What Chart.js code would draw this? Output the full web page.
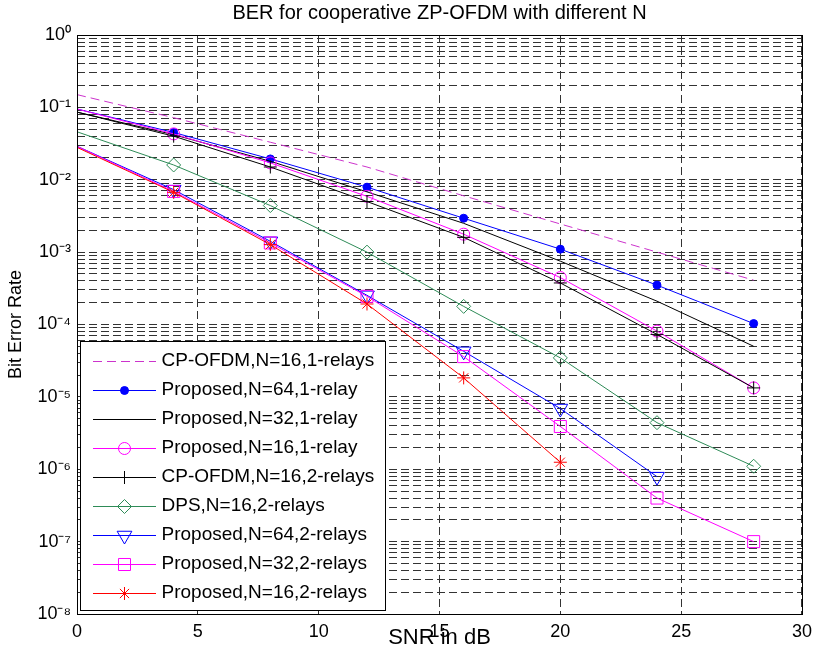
<!DOCTYPE html>
<html>
<head>
<meta charset="utf-8">
<script src="https://cdn.jsdelivr.net/npm/chart.js@4.4.1/dist/chart.umd.min.js"></script>
<style>
  html, body { margin: 0; padding: 0; background: #fff; }
</style>
</head>
<body>
<canvas id="berChart" width="819" height="654"></canvas>
<script>
// SNR points (dB)
const snrDb = [0, 4, 8, 12, 16, 20, 24, 28];

// BER curves
const berCpOfdm1Relay   = [0.15, 0.072, 0.033, 0.0150, 6.0e-3, 2.45e-3, 1.0e-3, 4.1e-4];
const berProp64_1Relay  = [0.095, 0.045, 0.0194, 0.0079, 2.94e-3, 1.1e-3, 3.5e-4, 1.03e-4];
const berProp32_1Relay  = [0.086, 0.042, 0.018, 0.0068, 2.5e-3, 7.5e-4, 2.1e-4, 5.0e-5];
const berProp16_1Relay  = [0.095, 0.043, 0.0171, 0.0059, 1.77e-3, 4.45e-4, 8.1e-5, 1.33e-5];
const berCpOfdm2Relays  = [0.086, 0.040, 0.0150, 0.0050, 1.6e-3, 3.75e-4, 7.3e-5, 1.33e-5];
const berDps2Relays     = [0.046, 0.016, 4.4e-3, 1.0e-3, 1.78e-4, 3.46e-5, 4.4e-6, 1.1e-6];
const berProp64_2Relays = [0.029, 7.3e-3, 1.41e-3, 2.53e-4, 4.26e-5, 6.9e-6, 7.9e-7];
const berProp32_2Relays = [0.029, 6.9e-3, 1.34e-3, 2.45e-4, 3.6e-5, 3.9e-6, 4.0e-7, 1.0e-7];
const berProp16_2Relays = [0.028, 6.7e-3, 1.27e-3, 1.92e-4, 1.83e-5, 1.25e-6];

const xTicks = [0, 5, 10, 15, 20, 25, 30];
const yExponents = [0, -1, -2, -3, -4, -5, -6, -7, -8];

const SUP = {'0': '⁰', '1': '¹', '2': '²', '3': '³', '4': '⁴', '5': '⁵', '6': '⁶', '7': '⁷', '8': '⁸', '9': '⁹', '-': '⁻'};
const powLabel = (e) => '10' + String(e).split('').map(c => SUP[c]).join('');

// all decade + minor values for the log grid
const yGridValues = [];
for (let e = -8; e <= 0; e++) {
  for (let m = 1; m <= 9; m++) {
    const v = parseFloat((m * Math.pow(10, e)).toPrecision(3));
    if (v <= 1) yGridValues.push(v);
  }
}

const FONT = "'Liberation Sans', Arial, Helvetica, sans-serif";
Chart.defaults.font.family = FONT;
Chart.defaults.color = '#000';

// marker: [pointStyle, radius, rotation, filled]
function series(label, ys, color, marker, extra) {
  const [style, radius, rotation, filled] = marker;
  return Object.assign({
    label: label,
    data: ys.map((y, i) => ({x: snrDb[i], y: y})),
    borderColor: color,
    borderWidth: 1,
    tension: 0,
    pointStyle: style || 'circle',
    pointRadius: (ctx) => (ctx.raw && ctx.raw.x === 0) ? 0 : radius,
    pointHoverRadius: radius,
    pointRotation: rotation,
    pointBorderWidth: 1,
    pointBorderColor: color,
    pointBackgroundColor: filled ? color : 'rgba(0,0,0,0)',
    legendMarker: {style: style, radius: radius, rotation: rotation, fill: filled ? color : 'rgba(0,0,0,0)'}
  }, extra || {});
}

const datasets = [
  series('CP-OFDM,N=16,1-relays', berCpOfdm1Relay, '#cc33cc', [false, 0, 0, false], {borderDash: [9, 5]}),
  series('Proposed,N=64,1-relay', berProp64_1Relay, '#0000ff', ['circle', 4, 0, true]),
  series('Proposed,N=32,1-relay', berProp32_1Relay, '#000000', [false, 0, 0, false]),
  series('Proposed,N=16,1-relay', berProp16_1Relay, '#ff00ff', ['circle', 6, 0, false]),
  series('CP-OFDM,N=16,2-relays', berCpOfdm2Relays, '#000000', ['cross', 6.5, 0, false]),
  series('DPS,N=16,2-relays', berDps2Relays, '#2e8b57', ['rectRot', 7, 0, false]),
  series('Proposed,N=64,2-relays', berProp64_2Relays, '#0000ff', ['triangle', 8.5, 180, false]),
  series('Proposed,N=32,2-relays', berProp32_2Relays, '#ff00ff', ['rect', 8.5, 0, false]),
  series('Proposed,N=16,2-relays', berProp16_2Relays, '#ff0000', ['star', 6.5, 0, false])
];
// later series drawn on top, like the original plot
datasets.forEach((ds, i) => { ds.order = datasets.length - i; });

// axes box + boxed legend drawn over the grid
const frameAndLegend = {
  id: 'frameAndLegend',
  afterLayout(chart) {
    // the chartArea legend is laid out from y=0; slide it down to the bottom-left corner
    const lg = chart.legend;
    const dy = chart.chartArea.bottom - 2 - lg.bottom;
    lg.top += dy;
    lg.bottom += dy;
    lg.legendHitBoxes.forEach(b => { b.top += dy; });
  },
  afterDraw(chart) {
    const {ctx, chartArea: a, legend} = chart;
    ctx.save();
    ctx.setLineDash([]);
    ctx.strokeStyle = '#000';
    ctx.lineWidth = 1;
    ctx.strokeRect(a.left + 0.5, a.top + 0.5, a.right - a.left, a.bottom - a.top);

    const boxes = legend.legendHitBoxes;
    const x0 = Math.round(a.left + 3);
    const y0 = Math.round(boxes[0].top - 10);
    const x1 = Math.round(Math.max(...boxes.map(b => b.left + b.width)) + 11);
    const y1 = Math.round(a.bottom - 4);
    ctx.fillStyle = '#fff';
    ctx.fillRect(x0, y0, x1 - x0, y1 - y0);
    ctx.strokeRect(x0 + 0.5, y0 + 0.5, x1 - x0, y1 - y0);
    ctx.restore();

    legend.draw();

    legend.legendItems.forEach((item, i) => {
      const b = boxes[i];
      const ds = chart.data.datasets[item.datasetIndex];
      const y = Math.round(b.top + b.height / 2) + 0.5;
      const xs = b.left + 6, xe = b.left + 69;
      ctx.save();
      ctx.strokeStyle = ds.borderColor;
      ctx.lineWidth = 1;
      ctx.setLineDash(ds.borderDash || []);
      ctx.beginPath();
      ctx.moveTo(xs, y);
      ctx.lineTo(xe, y);
      ctx.stroke();
      ctx.setLineDash([]);
      const m = ds.legendMarker;
      if (m.style && m.radius > 0) {
        ctx.fillStyle = m.fill;
        Chart.helpers.drawPoint(ctx, {pointStyle: m.style, radius: m.radius, rotation: m.rotation, borderWidth: 1}, (xs + xe) / 2, y);
      }
      ctx.restore();
    });
  }
};

new Chart(document.getElementById('berChart'), {
  type: 'line',
  data: { datasets: datasets },
  plugins: [frameAndLegend],
  options: {
    responsive: false,
    animation: false,
    devicePixelRatio: 1,
    layout: { padding: { left: 0, right: 13, top: 0, bottom: 0 } },
    plugins: {
      tooltip: { enabled: false },
      title: {
        display: true,
        text: 'BER for cooperative ZP-OFDM with different N',
        fullSize: false,
        font: { size: 20, weight: 'normal' },
        color: '#000',
        padding: { top: 1, bottom: 10 }
      },
      legend: {
        position: 'chartArea',
        align: 'end',
        labels: {
          font: { size: 19 },
          color: '#000',
          padding: 10,
          boxWidth: 65,
          generateLabels: (chart) => chart.data.datasets.map((ds, i) => ({
            text: ds.label,
            datasetIndex: i,
            fillStyle: 'rgba(0,0,0,0)',
            strokeStyle: 'rgba(0,0,0,0)',
            lineWidth: 0,
            hidden: false,
            fontColor: '#000'
          }))
        }
      }
    },
    scales: {
      x: {
        type: 'linear',
        min: 0,
        max: 30,
        afterBuildTicks: (scale) => { scale.ticks = xTicks.map(v => ({value: v})); },
        afterFit: (scale) => { scale.height = 40; },
        ticks: { font: { size: 18 }, color: '#000', padding: 7, maxRotation: 0, autoSkip: false },
        grid: { color: '#333', lineWidth: 1, drawTicks: false },
        border: { display: false, dash: [8, 4] },
        title: {
          display: true,
          text: 'SNR in dB',
          font: { size: 22 },
          color: '#000',
          padding: { top: 0, bottom: 3 }
        }
      },
      y: {
        type: 'logarithmic',
        min: 1e-8,
        max: 1,
        afterBuildTicks: (scale) => { scale.ticks = yGridValues.map(v => ({value: v})); },
        afterFit: (scale) => { scale.width = 77; },
        ticks: {
          font: { size: 18 },
          color: '#000',
          padding: 6,
          autoSkip: false,
          callback: (v) => {
            const e = Math.round(Math.log10(v));
            return (Math.abs(Math.log10(v) - e) < 1e-6 && yExponents.includes(e)) ? powLabel(e) : '';
          }
        },
        grid: { color: '#333', lineWidth: 1, drawTicks: false },
        border: { display: false, dash: [8, 4] },
        title: {
          display: true,
          text: 'Bit Error Rate',
          font: { size: 18 },
          color: '#000',
          padding: { top: 5, bottom: 0 }
        }
      }
    }
  }
});
</script>
</body>
</html>
